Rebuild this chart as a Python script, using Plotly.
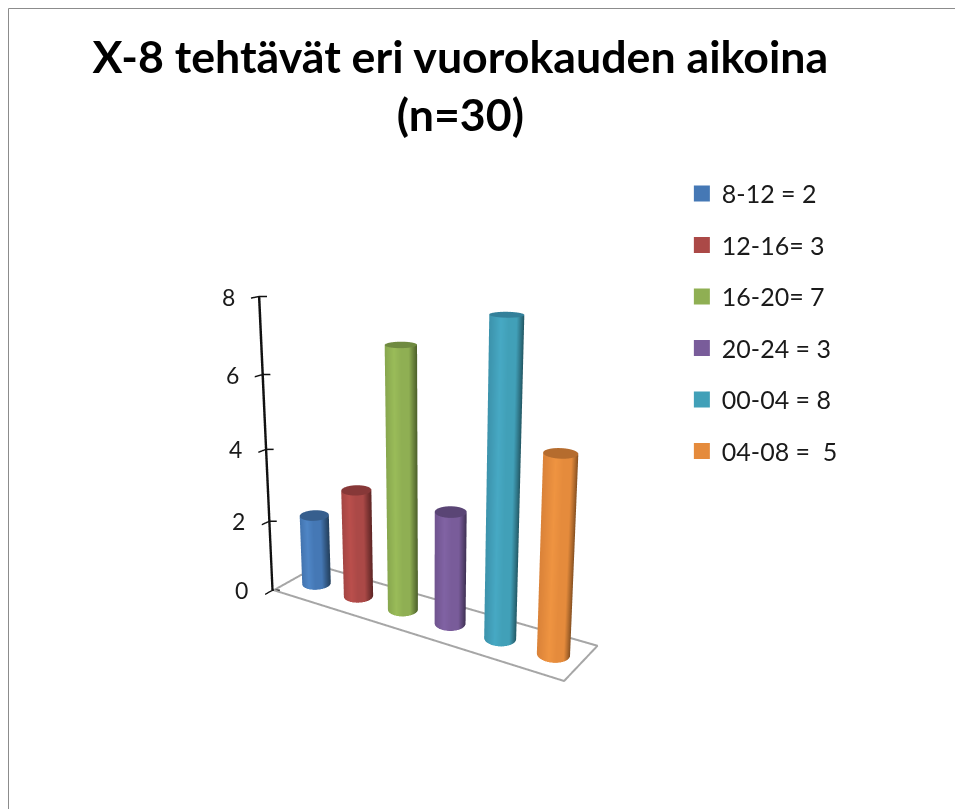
import numpy as np
import plotly.graph_objects as go

labels = ["8-12 = 2", "12-16= 3", "16-20= 7", "20-24 = 3", "00-04 = 8", "04-08 =  5"]
values = [2, 3, 7, 3, 8, 5]
left_colors = ["#4272AC", "#A34543", "#87A64E", "#70548F", "#3C93AC", "#DB8339"]
light_colors = ["#4F86C6", "#BA4F4C", "#9ABC59", "#8163A4", "#47A9C4", "#EF9441"]
body_colors = ["#4578B5", "#AB4947", "#8FAF53", "#795C9A", "#41A0B8", "#E58B3C"]
dark_colors = ["#24415F", "#5F2625", "#4C5F2A", "#3E3052", "#21535F", "#7C4A1E"]
cap_colors = ["#375F8E", "#873838", "#6F8A40", "#5A4575", "#33809A", "#B56C2E"]
z_ticks = [0, 2, 4, 6, 8]
title_text = "X-8 tehtävät eri vuorokauden aikoina<br>(n=30)"

# Scene proportions: long floor, shallow depth, tall value axis
ASPECT = dict(x=1.055, y=0.235, z=0.975)
FLOOR_X = [0.5, 6.5]
FLOOR_Y = [0.0, 1.0]
X_RANGE = [0.48, 6.52]  # a little wider than the floor so its short edges are not clipped
Y_RANGE = [-0.01, 1.01]
Z_RANGE = [0, 8]
DIAMETER = 0.095  # in scene units, so the bases stay circular
rx = DIAMETER / 2 * (X_RANGE[1] - X_RANGE[0]) / ASPECT["x"]
ry = DIAMETER / 2 * (Y_RANGE[1] - Y_RANGE[0]) / ASPECT["y"]
theta = np.linspace(0, 2 * np.pi, 145)

# Viewing direction: azimuth from the front, elevation, distance
AZIMUTH = np.deg2rad(32.5)
ELEVATION = np.deg2rad(15)
DISTANCE = 2.92
view = np.array([np.sin(AZIMUTH) * np.cos(ELEVATION), -np.cos(AZIMUTH) * np.cos(ELEVATION), np.sin(ELEVATION)])
right = np.array([np.cos(AZIMUTH), np.sin(AZIMUTH), 0.0])
up = np.cross(view, right)
look_at = 0.012 * right + 0.19 * up
eye = look_at + DISTANCE * view

fig = go.Figure()

# Each cylinder: side wall plus a closed lid, shaded by horizontal position on screen
for i, (value, l_c, hi_c, body, dark, cap) in enumerate(
    zip(values, left_colors, light_colors, body_colors, dark_colors, cap_colors)
):
    radius = np.array([1.0, 1.0, 1.0, 0.0])
    heights = np.array([0.0, value, value, value])
    tt, rr = np.meshgrid(theta, radius)
    zz = np.tile(heights[:, None], (1, theta.size))
    across = np.cos(tt) * right[0] + np.sin(tt) * right[1]
    shade = (across + 1) / 2 * 0.8
    shade[2:, :] = 1.0
    fig.add_trace(go.Surface(
        x=(i + 1) + rx * rr * np.cos(tt),
        y=0.5 + ry * rr * np.sin(tt),
        z=zz,
        surfacecolor=shade,
        cmin=0, cmax=1,
        colorscale=[[0, l_c], [0.24, hi_c], [0.42, body], [0.6, body], [0.8, dark], [0.9, cap], [1, cap]],
        showscale=False,
        showlegend=False,
        hoverinfo="skip",
        lighting=dict(ambient=1, diffuse=0, specular=0, roughness=1, fresnel=0),
    ))

# Floor outline
fx = [FLOOR_X[0], FLOOR_X[1], FLOOR_X[1], FLOOR_X[0], FLOOR_X[0]]
fy = [FLOOR_Y[0], FLOOR_Y[0], FLOOR_Y[1], FLOOR_Y[1], FLOOR_Y[0]]
fig.add_trace(go.Scatter3d(
    x=fx, y=fy, z=[0] * 5, mode="lines",
    line=dict(color="#A6A6A6", width=4),
    showlegend=False, hoverinfo="skip",
))

# Inner half of the value ticks, so each tick crosses the axis line
tick_reach = 0.024
tick_dx = tick_reach * right[0] * (X_RANGE[1] - X_RANGE[0]) / ASPECT["x"]
tick_dy = tick_reach * right[1] * (Y_RANGE[1] - Y_RANGE[0]) / ASPECT["y"]
tx, ty, tz = [], [], []
for v in z_ticks:
    tx += [X_RANGE[0], X_RANGE[0] + tick_dx, None]
    ty += [Y_RANGE[0], Y_RANGE[0] + tick_dy, None]
    tz += [v, v, None]
fig.add_trace(go.Scatter3d(
    x=tx, y=ty, z=tz, mode="lines",
    line=dict(color="#111111", width=3),
    connectgaps=False, showlegend=False, hoverinfo="skip",
))

# Legend entries
for label, body in zip(labels, body_colors):
    fig.add_trace(go.Scatter3d(
        x=[None], y=[None], z=[None], mode="markers",
        name=label, legendgroup=label,
        marker=dict(symbol="square", size=16, color=body),
    ))

hidden_axis = dict(
    visible=True, showgrid=False, showline=False, zeroline=False,
    showticklabels=False, ticks="", showbackground=False, showspikes=False, title="",
)
# Value labels sit beside the axis as upright text anchored to the scene
tick_annotations = [
    dict(x=X_RANGE[0], y=Y_RANGE[0], z=v, text=str(v), showarrow=False,
         xanchor="right", yanchor="middle", xshift=-22,
         font=dict(family="Lato", size=23, color="#1A1A1A"))
    for v in z_ticks
]
fig.update_layout(
    width=955, height=809,
    margin=dict(l=0, r=0, t=0, b=0),
    paper_bgcolor="white",
    font=dict(family="Lato", color="#1A1A1A"),
    title=dict(
        text=title_text, x=0.482, xanchor="center", y=0.91, yanchor="top",
        font=dict(family="Lato", size=44.7, color="black", weight="bold"),
    ),
    legend=dict(
        x=0.714, xanchor="left", y=0.789, yanchor="top",
        font=dict(family="Lato", size=25, color="#1A1A1A"),
        tracegroupgap=16, bgcolor="rgba(0,0,0,0)",
    ),
    scene=dict(
        domain=dict(x=[0, 0.9], y=[0, 1]),
        aspectmode="manual",
        aspectratio=ASPECT,
        camera=dict(
            eye=dict(x=float(eye[0]), y=float(eye[1]), z=float(eye[2])),
            center=dict(x=float(look_at[0]), y=float(look_at[1]), z=float(look_at[2])),
            up=dict(x=0, y=0, z=1),
        ),
        xaxis=dict(hidden_axis, range=X_RANGE),
        yaxis=dict(hidden_axis, range=Y_RANGE),
        zaxis=dict(
            range=Z_RANGE, tickvals=z_ticks, showticklabels=False,
            showgrid=False, showline=True, linecolor="#111111", linewidth=5,
            zeroline=False, ticks="outside", ticklen=8, tickwidth=3, tickcolor="#111111",
            showbackground=False, showspikes=False, title="",
        ),
        annotations=tick_annotations,
    ),
    shapes=[
        dict(type="line", xref="paper", yref="paper", x0=8.5 / 955, x1=8.5 / 955,
             y0=0, y1=1 - 8.5 / 809, line=dict(color="#8C8C8C", width=1)),
        dict(type="line", xref="paper", yref="paper", x0=8.5 / 955, x1=1,
             y0=1 - 8.5 / 809, y1=1 - 8.5 / 809, line=dict(color="#8C8C8C", width=1)),
    ],
)

fig.write_html("out.html")
